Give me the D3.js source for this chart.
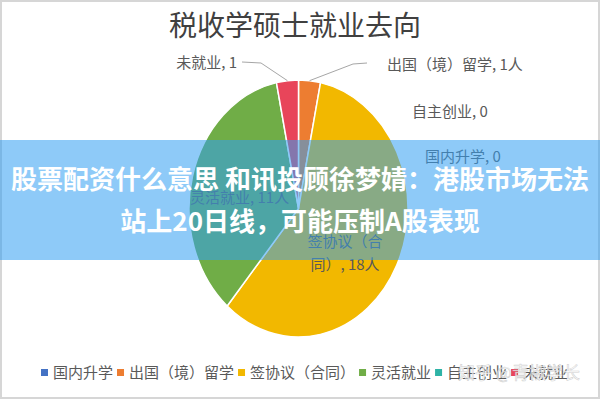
<!DOCTYPE html>
<html>
<head>
<meta charset="utf-8">
<script src="https://cdn.jsdelivr.net/npm/d3@7/dist/d3.min.js"></script>
<style>
  body { margin: 0; background: #fff; }
  svg text { font-family: "Noto Sans CJK SC", "Noto Sans", sans-serif; }
</style>
</head>
<body>
<div id="chart"></div>
<script>
// chart data
var categories = ['国内升学', '出国（境）留学', '签协议（合同）', '灵活就业', '自主创业', '未就业'];
var counts = [0, 1, 18, 11, 0, 1];
var units = ['', '人', '人', '人', '', ''];
var sliceColors = ['#4472C4', '#ED7D31', '#F2B800', '#70AD47', '#2EB3A6', '#E8455A'];

var title = '税收学硕士就业去向';
var bannerLines = ['股票配资什么意思 和讯投顾徐梦婧：港股市场无法', '站上20日线，可能压制A股表现'];
var watermark = '知乎 @青椒学长';

var width = 600, height = 400;
var cx = 298.5, cy = 208.5, rx = 109.5, ry = 128.5;

var svg = d3.select('#chart').append('svg')
    .attr('width', width)
    .attr('height', height);

svg.append('rect')
    .attr('x', 1).attr('y', 1)
    .attr('width', width - 2).attr('height', height - 3)
    .attr('fill', '#fff')
    .attr('stroke', '#d6d6d6')
    .attr('stroke-width', 2);

svg.append('text')
    .attr('x', 295).attr('y', 36)
    .attr('text-anchor', 'middle')
    .attr('font-size', 28)
    .attr('fill', '#404040')
    .text(title);

// pie, stretched vertically into an ellipse
var pie = d3.pie().sort(null).value(d => d)(counts);
var arc = d3.arc().innerRadius(0).outerRadius(rx);

var g = svg.append('g')
    .attr('transform', 'translate(' + cx + ',' + cy + ') scale(1,' + (ry / rx) + ')');

g.selectAll('path')
    .data(pie.filter(d => d.value > 0))
    .enter().append('path')
    .attr('d', arc)
    .attr('fill', d => sliceColors[d.index])
    .attr('stroke', '#fff')
    .attr('stroke-width', 1.5)
    .attr('vector-effect', 'non-scaling-stroke');

function rim(a) {
    return [cx + rx * Math.sin(a), cy - ry * Math.cos(a)];
}

// leader lines for the two thin slices at the top
var leaders = [
    { i: 5, from: [242, 62], bend: [261, 63] },
    { i: 1, from: [367, 63], bend: [353, 64] },
];
leaders.forEach(l => {
    var d = pie[l.i];
    var end = rim((d.startAngle + d.endAngle) / 2);
    svg.append('polyline')
        .attr('points', [l.from, l.bend, end].map(p => p.join(',')).join(' '))
        .attr('fill', 'none')
        .attr('stroke', '#a6a6a6')
        .attr('stroke-width', 1);
});

// data labels
var labelPlace = [
    { x: 425, y: 162, anchor: 'start' },
    { x: 387, y: 70, anchor: 'start' },
    { x: 345, y: 247, anchor: 'middle', wrap: 5 },
    { x: 190, y: 203, anchor: 'start' },
    { x: 412, y: 117, anchor: 'start' },
    { x: 237, y: 68, anchor: 'end' },
];

categories.forEach((c, i) => {
    var txt = c + ', ' + counts[i] + units[i];
    var p = labelPlace[i];
    var lines = p.wrap ? [txt.slice(0, p.wrap), txt.slice(p.wrap)] : [txt];
    var t = svg.append('text')
        .attr('text-anchor', p.anchor)
        .attr('font-size', 15)
        .attr('fill', '#595959');
    lines.forEach((s, k) => {
        t.append('tspan').attr('x', p.x).attr('y', p.y + k * 23).text(s);
    });
});

// legend
var legend = svg.append('g');
var lx = 41;
categories.forEach((c, i) => {
    legend.append('rect')
        .attr('x', lx).attr('y', 369)
        .attr('width', 7).attr('height', 7)
        .attr('fill', sliceColors[i]);
    var t = legend.append('text')
        .attr('x', lx + 12).attr('y', 378)
        .attr('font-size', 15)
        .attr('fill', '#595959')
        .text(c);
    lx += 16 + t.node().getComputedTextLength();
});

// overlay banner
svg.append('rect')
    .attr('x', 0).attr('y', 140)
    .attr('width', width).attr('height', 120)
    .attr('fill', 'rgb(49,158,242)')
    .attr('fill-opacity', 0.55);

bannerLines.forEach((s, k) => {
    svg.append('text')
        .attr('x', 300).attr('y', 189 + k * 42)
        .attr('text-anchor', 'middle')
        .attr('font-size', 26)
        .attr('font-weight', 700)
        .attr('fill', '#fff')
        .text(s);
});

svg.append('text')
    .attr('x', 458).attr('y', 379)
    .attr('font-size', 17)
    .attr('fill', '#fff')
    .attr('fill-opacity', 0.8)
    .attr('stroke', '#b0b0b0')
    .attr('stroke-width', 0.6)
    .attr('stroke-opacity', 0.6)
    .text(watermark);
</script>
</body>
</html>
